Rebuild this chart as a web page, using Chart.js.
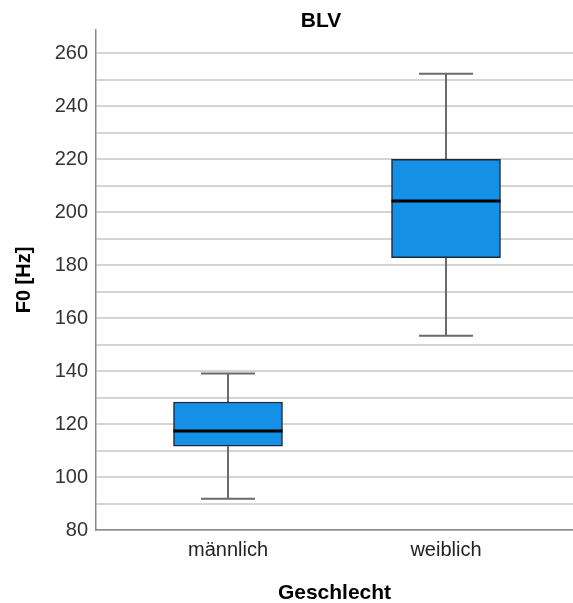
<!DOCTYPE html>
<html>
<head>
<meta charset="utf-8">
<script src="https://cdn.jsdelivr.net/npm/chart.js@4/dist/chart.umd.min.js"></script>
<style>
html,body{margin:0;padding:0;background:#fff;}
#wrap{width:573px;height:603px;position:relative;}
</style>
</head>
<body>
<div id="wrap"><canvas id="c" width="573" height="603"></canvas></div>
<script>
// ---- data ----
const categories = ['männlich', 'weiblich'];
const whiskerLow  = [91.8, 153.3];
const q1          = [111.6, 182.8];
const median      = [117.4, 204.2];
const q3          = [128.3, 219.9];
const whiskerHigh = [139.1, 252.2];
const chartTitle = 'BLV';
const xTitle = 'Geschlecht';
const yTitle = 'F0 [Hz]';

const FONT = "'Liberation Sans', Arial, sans-serif";

const boxData = categories.map((c, i) => ({ x: i, y: [q1[i], q3[i]] }));

const boxPlugin = {
  id: 'boxExtras',
  beforeDatasetsDraw(chart) {
    const { ctx } = chart;
    const xs = chart.scales.x, ys = chart.scales.y;
    ctx.save();
    ctx.strokeStyle = '#6b6b6b';
    ctx.lineWidth = 2;
    categories.forEach((c, i) => {
      const cx = Math.round(xs.getPixelForValue(i));
      const half = 27;
      const yl = ys.getPixelForValue(whiskerLow[i]);
      const yh = ys.getPixelForValue(whiskerHigh[i]);
      const y1 = ys.getPixelForValue(q1[i]);
      const y3 = ys.getPixelForValue(q3[i]);
      ctx.beginPath();
      ctx.moveTo(cx, yh); ctx.lineTo(cx, y3);
      ctx.moveTo(cx, y1); ctx.lineTo(cx, yl);
      ctx.moveTo(cx - half, yh); ctx.lineTo(cx + half, yh);
      ctx.moveTo(cx - half, yl); ctx.lineTo(cx + half, yl);
      ctx.stroke();
    });
    ctx.restore();
  },
  afterDatasetsDraw(chart) {
    const { ctx } = chart;
    const xs = chart.scales.x, ys = chart.scales.y;
    const meta = chart.getDatasetMeta(0);
    ctx.save();
    ctx.strokeStyle = '#000';
    ctx.lineWidth = 3;
    categories.forEach((c, i) => {
      const bar = meta.data[i];
      const w = bar.width;
      const cx = xs.getPixelForValue(i);
      const ym = ys.getPixelForValue(median[i]);
      ctx.beginPath();
      ctx.moveTo(cx - w / 2, ym); ctx.lineTo(cx + w / 2, ym);
      ctx.stroke();
    });
    ctx.restore();
  },
  afterDraw(chart) {
    const { ctx } = chart;
    ctx.save();
    ctx.font = "bold 21px " + FONT;
    ctx.fillStyle = '#000';
    ctx.textAlign = 'center';
    ctx.textBaseline = 'middle';
    ctx.fillText(chartTitle, 321, 21);
    ctx.restore();
  }
};

new Chart(document.getElementById('c'), {
  type: 'bar',
  data: {
    datasets: [{
      data: boxData,
      backgroundColor: '#1490e6',
      borderColor: '#1c2a38',
      borderWidth: 1.5,
      borderSkipped: false,
      barThickness: 109
    }]
  },
  options: {
    responsive: false,
    animation: false,
    layout: { padding: { top: 30, left: 0, right: 0, bottom: 0 } },
    plugins: { legend: { display: false }, tooltip: { enabled: false }, title: { display: false } },
    scales: {
      x: {
        type: 'linear',
        offset: false,
        min: -0.6055,
        max: 1.5826,
        afterBuildTicks(scale) { scale.ticks = categories.map((c, i) => ({ value: i })); },
        afterFit(scale) { scale.height = 73; },
        ticks: {
          callback: (v) => categories[v],
          font: { family: FONT, size: 20 },
          color: '#222',
          padding: 8
        },
        grid: { display: false, drawTicks: false },
        border: { display: true, color: '#8a8a8a', width: 1.5 },
        title: {
          display: true, text: xTitle,
          font: { family: FONT, size: 21, weight: 'bold', lineHeight: 0.9 },
          color: '#000',
          padding: { top: 0, bottom: 0 }
        }
      },
      y: {
        min: 80,
        max: 268.7,
        afterBuildTicks(scale) {
          const t = [];
          for (let v = 80; v <= 260; v += 10) t.push({ value: v });
          scale.ticks = t;
        },
        afterFit(scale) { scale.width = 96; },
        ticks: {
          callback: (v) => (v % 20 === 0 ? String(v) : ''),
          font: { family: FONT, size: 20 },
          color: '#333',
          padding: 8
        },
        grid: { color: '#d4d4d4', lineWidth: 2, drawTicks: false },
        border: { display: true, color: '#8a8a8a', width: 1.5 },
        title: {
          display: true, text: yTitle,
          font: { family: FONT, size: 20, weight: 'bold' },
          color: '#000',
          padding: { top: 12, bottom: 0 }
        }
      }
    }
  },
  plugins: [boxPlugin]
});
</script>
</body>
</html>
